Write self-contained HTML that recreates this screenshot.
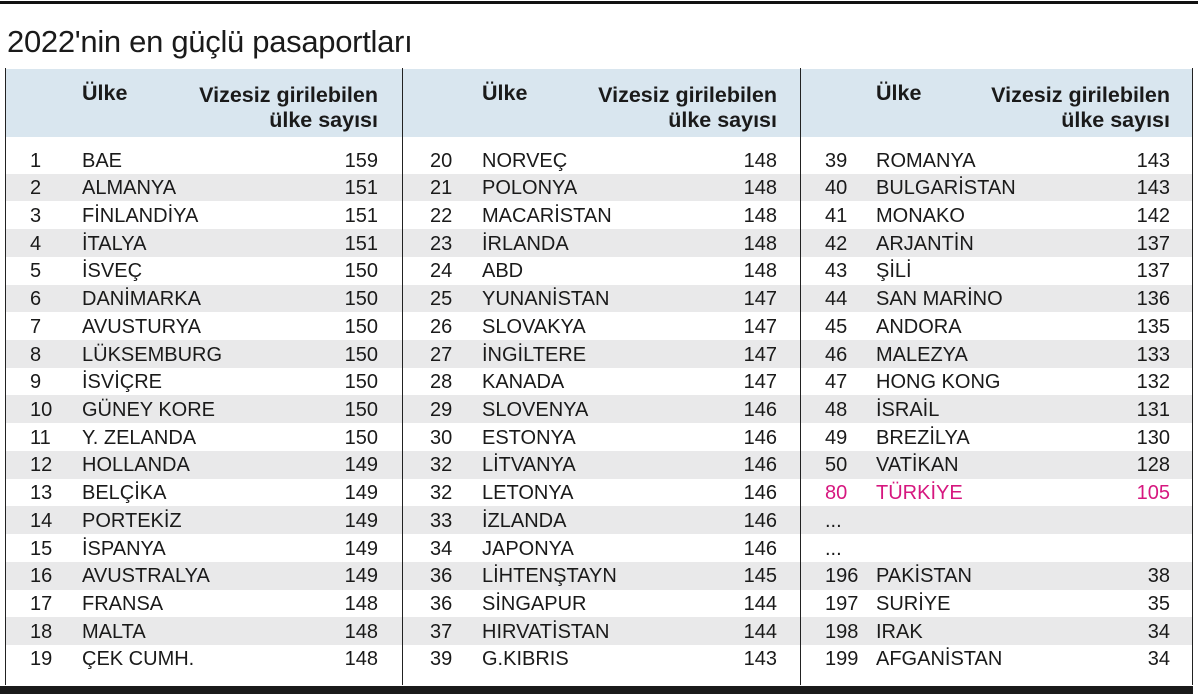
<!DOCTYPE html><html><head><meta charset="utf-8"><style>
body{margin:0;width:1198px;height:696px;background:#fff;position:relative;overflow:hidden;font-family:"Liberation Sans",sans-serif;color:#1a1a1a}
.a{position:absolute}
.t{font-size:20px;white-space:nowrap;line-height:20px}
.h{font-size:21.5px;font-weight:bold;white-space:nowrap;line-height:25px}
.r{text-align:right}
.p{color:#d6177f}
</style></head><body>
<div class="a" style="left:0;top:1px;width:1198px;height:3px;background:#111"></div>
<div class="a" style="left:7px;top:24px;font-size:31px;line-height:36px;white-space:nowrap;letter-spacing:-0.3px">2022'nin en güçlü pasaportları</div>
<div class="a" style="left:6px;top:69px;width:1186px;height:68px;background:#d9e6ef"></div>
<div id="rows"></div>
<div class="a" style="left:5px;top:68px;width:1px;height:617px;background:#222"></div>
<div class="a" style="left:402px;top:68px;width:1px;height:617px;background:#222"></div>
<div class="a" style="left:800px;top:68px;width:1px;height:617px;background:#222"></div>
<div class="a" style="left:1192px;top:68px;width:1px;height:617px;background:#222"></div>
<div class="a" style="left:0;top:686px;width:1193px;height:8px;background:#1a1a1a"></div>
<script>
const cols=[
{rk:30,nm:82,vr:378,d:[["1","BAE","159"],["2","ALMANYA","151"],["3","FİNLANDİYA","151"],["4","İTALYA","151"],["5","İSVEÇ","150"],["6","DANİMARKA","150"],["7","AVUSTURYA","150"],["8","LÜKSEMBURG","150"],["9","İSVİÇRE","150"],["10","GÜNEY KORE","150"],["11","Y. ZELANDA","150"],["12","HOLLANDA","149"],["13","BELÇİKA","149"],["14","PORTEKİZ","149"],["15","İSPANYA","149"],["16","AVUSTRALYA","149"],["17","FRANSA","148"],["18","MALTA","148"],["19","ÇEK CUMH.","148"]]},
{rk:430,nm:482,vr:777,d:[["20","NORVEÇ","148"],["21","POLONYA","148"],["22","MACARİSTAN","148"],["23","İRLANDA","148"],["24","ABD","148"],["25","YUNANİSTAN","147"],["26","SLOVAKYA","147"],["27","İNGİLTERE","147"],["28","KANADA","147"],["29","SLOVENYA","146"],["30","ESTONYA","146"],["32","LİTVANYA","146"],["32","LETONYA","146"],["33","İZLANDA","146"],["34","JAPONYA","146"],["36","LİHTENŞTAYN","145"],["36","SİNGAPUR","144"],["37","HIRVATİSTAN","144"],["39","G.KIBRIS","143"]]},
{rk:825,nm:876,vr:1170,d:[["39","ROMANYA","143"],["40","BULGARİSTAN","143"],["41","MONAKO","142"],["42","ARJANTİN","137"],["43","ŞİLİ","137"],["44","SAN MARİNO","136"],["45","ANDORA","135"],["46","MALEZYA","133"],["47","HONG KONG","132"],["48","İSRAİL","131"],["49","BREZİLYA","130"],["50","VATİKAN","128"],["80","TÜRKİYE","105","p"],["...","",""],["...","",""],["196","PAKİSTAN","38"],["197","SURİYE","35"],["198","IRAK","34"],["199","AFGANİSTAN","34"]]}];
let h='';const RH=27.72,Y0=146;
for(let i=0;i<19;i++){if(i%2==1)h+=`<div class="a" style="left:6px;top:${Y0+i*RH}px;width:1186px;height:${RH}px;background:#e9e9ea"></div>`;}
cols.forEach((c,ci)=>{
h+=`<div class="a h" style="left:${c.nm}px;top:81px">Ülke</div><div class="a h r" style="left:${c.vr-250}px;width:250px;top:83px">Vizesiz girilebilen<br>ülke sayısı</div>`;
c.d.forEach((r,i)=>{const y=Y0+i*RH+4.5;const cl=r[3]?' p':'';
h+=`<div class="a t${cl}" style="left:${c.rk}px;top:${y}px">${r[0]}</div><div class="a t${cl}" style="left:${c.nm}px;top:${y}px">${r[1]}</div><div class="a t r${cl}" style="left:${c.vr-80}px;width:80px;top:${y}px">${r[2]}</div>`;});});
document.getElementById('rows').outerHTML=h;
</script>
</body></html>
